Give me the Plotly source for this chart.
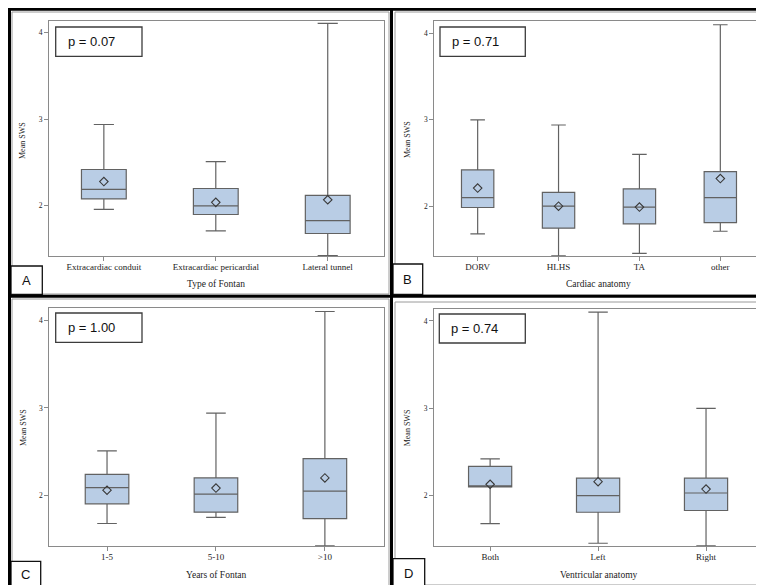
import plotly.graph_objects as go

W, H = 764, 585

# ---------------- data ----------------
fontan_types = ["Extracardiac conduit", "Extracardiac pericardial", "Lateral tunnel"]
fontan_lower = [1.96, 1.71, 1.425]
fontan_q1 = [2.08, 1.90, 1.68]
fontan_median = [2.19, 2.00, 1.83]
fontan_q3 = [2.42, 2.20, 2.12]
fontan_upper = [2.94, 2.51, 4.11]
fontan_mean = [2.28, 2.04, 2.07]

anatomy = ["DORV", "HLHS", "TA", "other"]
anatomy_lower = [1.68, 1.425, 1.455, 1.71]
anatomy_q1 = [1.985, 1.745, 1.795, 1.81]
anatomy_median = [2.10, 2.00, 1.99, 2.10]
anatomy_q3 = [2.42, 2.16, 2.20, 2.40]
anatomy_upper = [3.00, 2.94, 2.60, 4.10]
anatomy_mean = [2.21, 2.00, 1.99, 2.32]

years = ["1-5", "5-10", ">10"]
years_lower = [1.68, 1.75, 1.425]
years_q1 = [1.905, 1.81, 1.735]
years_median = [2.09, 2.015, 2.05]
years_q3 = [2.24, 2.20, 2.42]
years_upper = [2.51, 2.94, 4.10]
years_mean = [2.06, 2.085, 2.20]

ventricle = ["Both", "Left", "Right"]
ventricle_lower = [1.68, 1.455, 1.425]
ventricle_q1 = [2.10, 1.81, 1.83]
ventricle_median = [2.10, 2.00, 2.03]
ventricle_q3 = [2.335, 2.20, 2.20]
ventricle_upper = [2.42, 4.10, 3.00]
ventricle_mean = [2.13, 2.16, 2.075]

p_values = ["p = 0.07", "p = 0.71", "p = 1.00", "p = 0.74"]
panel_letters = ["A", "B", "C", "D"]
x_titles = ["Type of Fontan", "Cardiac anatomy", "Years of Fontan", "Ventricular anatomy"]
y_title = "Mean SWS"

# ---------------- layout helpers ----------------
def px(x):
    return x / W

def py(y):
    return 1 - y / H

panels = [
    dict(cats=fontan_types, lo=fontan_lower, q1=fontan_q1, med=fontan_median, q3=fontan_q3,
         up=fontan_upper, mean=fontan_mean,
         box=(41, 12.7, 375.7, 248), xr=[-0.49, 2.5],
         pbox=(47.7, 19, 134, 48.3), lbox=(3, 258, 34.3, 286.5),
         ytitle=(15, 133), xtitle=(208.5, 276)),
    dict(cats=anatomy, lo=anatomy_lower, q1=anatomy_q1, med=anatomy_median, q3=anatomy_q3,
         up=anatomy_upper, mean=anatomy_mean,
         box=(426.3, 13.3, 754.7, 248.3), xr=[-0.536, 3.524],
         pbox=(432, 19, 517.3, 48.3), lbox=(385, 256, 414.7, 286.5),
         ytitle=(400, 132), xtitle=(590.7, 276)),
    dict(cats=years, lo=years_lower, q1=years_q1, med=years_median, q3=years_q3,
         up=years_upper, mean=years_mean,
         box=(41.3, 300, 375.7, 538.3), xr=[-0.53, 2.54],
         pbox=(47.7, 305, 134, 334.3), lbox=(3, 553.3, 32.7, 580),
         ytitle=(15, 420), xtitle=(208.7, 566.7)),
    dict(cats=ventricle, lo=ventricle_lower, q1=ventricle_q1, med=ventricle_median, q3=ventricle_q3,
         up=ventricle_upper, mean=ventricle_mean,
         box=(426, 300.7, 754.7, 538.3), xr=[-0.52, 2.525],
         pbox=(431.3, 306, 517.3, 335), lbox=(385, 550.7, 416.7, 580),
         ytitle=(399.3, 420), xtitle=(590.7, 566.7)),
]

FILL = "#b9cde5"
LINE = "#626262"
FRAME = "#8a8a8a"
SERIF = "Liberation Serif"
SANS = "Liberation Sans"

fig = go.Figure()
shapes = []
annotations = []

for i, p in enumerate(panels):
    n = "" if i == 0 else str(i + 1)
    xa, ya = "x" + n, "y" + n
    fig.add_trace(go.Box(
        x=p["cats"], q1=p["q1"], median=p["med"], q3=p["q3"],
        lowerfence=p["lo"], upperfence=p["up"],
        width=0.4, whiskerwidth=0.45, boxpoints=False,
        fillcolor=FILL, line=dict(color=LINE, width=1.2),
        xaxis=xa, yaxis=ya, showlegend=False, hoverinfo="skip",
    ))
    fig.add_trace(go.Scatter(
        x=p["cats"], y=p["mean"], mode="markers",
        marker=dict(symbol="diamond-open", size=6.5, color="#3a3a3a",
                    line=dict(width=1.1, color="#3a3a3a")),
        xaxis=xa, yaxis=ya, showlegend=False, hoverinfo="skip",
    ))
    x0, y0, x1, y1 = p["box"]
    axis_common = dict(showline=True, linecolor=FRAME, linewidth=1, mirror=True,
                       showgrid=False, zeroline=False, ticks="outside", ticklen=4,
                       tickcolor=FRAME, tickwidth=1)
    fig.update_layout(**{
        ("xaxis" + n): dict(domain=[px(x0), px(x1)], anchor=ya, type="category",
                            categoryorder="array", categoryarray=p["cats"],
                            range=p["xr"], tickfont=dict(family=SERIF, size=9, color="#222"),
                            ticklabelstandoff=-2, **axis_common),
        ("yaxis" + n): dict(domain=[py(y1), py(y0)], anchor=xa, range=[1.42, 4.14],
                            tickvals=[2, 3, 4], ticktext=["2", "3", "4"],
                            tickfont=dict(family=SERIF, size=7.5, color="#222"),
                            **axis_common),
    })
    # p-value box
    bx0, by0, bx1, by1 = p["pbox"]
    shapes.append(dict(type="rect", xref="paper", yref="paper",
                       x0=px(bx0), x1=px(bx1), y0=py(by1), y1=py(by0),
                       line=dict(color="#3c3c3c", width=1.3), fillcolor="white", layer="above"))
    annotations.append(dict(text=p_values[i], xref="paper", yref="paper",
                            x=px(bx0 + 10), y=py((by0 + by1) / 2), xanchor="left", yanchor="middle",
                            showarrow=False, font=dict(family=SANS, size=13, color="#111")))
    # panel letter box
    lx0, ly0, lx1, ly1 = p["lbox"]
    shapes.append(dict(type="rect", xref="paper", yref="paper",
                       x0=px(lx0), x1=px(lx1), y0=py(ly1), y1=py(ly0),
                       line=dict(color="#111", width=1.3), fillcolor="white", layer="above"))
    annotations.append(dict(text=panel_letters[i], xref="paper", yref="paper",
                            x=px((lx0 + lx1) / 2), y=py((ly0 + ly1) / 2), xanchor="center",
                            yanchor="middle", showarrow=False,
                            font=dict(family=SANS, size=13, color="#111")))
    # axis titles
    tx, ty = p["ytitle"]
    annotations.append(dict(text=y_title, xref="paper", yref="paper", x=px(tx), y=py(ty),
                            xanchor="center", yanchor="middle", textangle=-90, showarrow=False,
                            font=dict(family=SERIF, size=8, color="#222")))
    tx, ty = p["xtitle"]
    annotations.append(dict(text=x_titles[i], xref="paper", yref="paper", x=px(tx), y=py(ty),
                            xanchor="center", yanchor="middle", showarrow=False,
                            font=dict(family=SERIF, size=9.5, color="#222")))

# thin gray sub-image frames
for (fx0, fy0, fx1, fy1) in [(4, 4, 381, 286), (387, 4, 759, 287),
                             (4, 291, 381, 578.5), (387, 294, 759, 577)]:
    shapes.append(dict(type="rect", xref="paper", yref="paper",
                       x0=px(fx0), x1=px(fx1), y0=py(fy1), y1=py(fy0),
                       line=dict(color="#9a9a9a", width=1), layer="below"))

# thick black grid of the composite figure
def hline(y, x0, x1, w=3):
    return dict(type="line", xref="paper", yref="paper", x0=px(x0), x1=px(x1),
                y0=py(y), y1=py(y), line=dict(color="black", width=w), layer="above")

def vline(x, y0, y1, w=3):
    return dict(type="line", xref="paper", yref="paper", x0=px(x), x1=px(x),
                y0=py(y0), y1=py(y1), line=dict(color="black", width=w), layer="above")

shapes += [
    hline(1.3, 0, 762), hline(288.2, 0, 762), hline(581, 0, 762, 3.5),
    vline(1.5, 0, 583), vline(383.5, 0, 583), vline(760.5, 0, 583),
]

fig.update_layout(width=W, height=H, margin=dict(l=0, r=0, t=0, b=0),
                  paper_bgcolor="white", plot_bgcolor="white",
                  shapes=shapes, annotations=annotations, showlegend=False)

fig.write_html("out.html")
